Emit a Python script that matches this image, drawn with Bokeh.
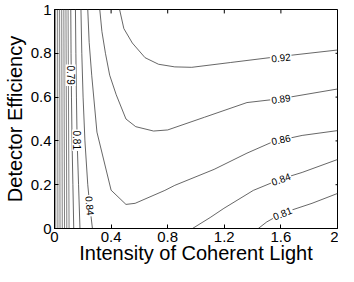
import math
from bokeh.plotting import figure
from bokeh.models import Range1d, FixedTicker, ColumnDataSource
from bokeh.embed import file_html
from bokeh.resources import INLINE
from bokeh.core.properties import value

# ---- data ----
x_ticks = [0.0, 0.4, 0.8, 1.2, 1.6, 2.0]
x_tick_labels = ["0", "0.4", "0.8", "1.2", "1.6", "2"]
y_ticks = [0.0, 0.2, 0.4, 0.6, 0.8, 1.0]
y_tick_labels = ["0", "0.2", "0.4", "0.6", "0.8", "1"]

# dense unlabelled low-level contours near x = 0 (top and bottom x)
dense_x_top = [0.008, 0.022, 0.036, 0.051, 0.066, 0.081, 0.096]
dense_x_bot = [0.009, 0.024, 0.039, 0.055, 0.071, 0.087, 0.103]

c079_x = [0.115, 0.117, 0.120, 0.124, 0.130, 0.136]
c079_y = [1.0, 0.8, 0.6, 0.4, 0.2, 0.0]

c081_x = [0.148, 0.151, 0.155, 0.160, 0.170, 0.180]
c081_y = [1.0, 0.8, 0.6, 0.4, 0.2, 0.0]

c084_x = [0.187, 0.193, 0.202, 0.215, 0.235, 0.250, 0.268]
c084_y = [1.0, 0.8, 0.6, 0.4, 0.2, 0.1, 0.0]

c086_x = [0.235, 0.245, 0.263, 0.300, 0.400, 0.505, 0.570, 0.780, 0.850,
          1.128, 1.360, 1.543, 1.750, 2.000]
c086_y = [1.0, 0.85, 0.70, 0.44, 0.175, 0.110, 0.115, 0.174, 0.197,
          0.270, 0.344, 0.396, 0.425, 0.447]

c089_x = [0.320, 0.335, 0.360, 0.390, 0.436, 0.505, 0.574, 0.700, 0.800,
          1.060, 1.360, 1.600, 2.000]
c089_y = [1.0, 0.9, 0.8, 0.7, 0.611, 0.500, 0.465, 0.445, 0.450,
          0.508, 0.575, 0.593, 0.637]

c092_x = [0.460, 0.490, 0.550, 0.640, 0.735, 0.850, 0.970, 1.245, 1.520, 2.000]
c092_y = [1.0, 0.913, 0.847, 0.780, 0.750, 0.738, 0.736, 0.758, 0.780, 0.815]

c084b_x = [0.975, 1.100, 1.197, 1.405, 1.600, 1.750, 2.000]
c084b_y = [0.0, 0.050, 0.092, 0.174, 0.226, 0.256, 0.315]

c081b_x = [1.440, 1.500, 1.610, 1.820, 2.000]
c081b_y = [0.0, 0.030, 0.070, 0.115, 0.160]

label_text = ["0.79", "0.81", "0.84", "0.84", "0.81", "0.86", "0.89", "0.92"]
label_x = [0.115, 0.160, 0.251, 1.600, 1.610, 1.600, 1.600, 1.600]
label_y = [0.700, 0.403, 0.104, 0.226, 0.070, 0.407, 0.593, 0.781]
label_angle_deg = [-90, -90, -85, 20, 22, 12, 8.6, 6.5]

# ---- figure ----
FONT = "Liberation Sans"
p = figure(width=338, height=266, x_range=Range1d(0, 2), y_range=Range1d(0, 1),
           output_backend="svg", toolbar_location=None,
           x_axis_label="Intensity of Coherent Light",
           y_axis_label="Detector Efficiency",
           min_border_left=49, min_border_right=1, min_border_top=9,
           min_border_bottom=0)
p.grid.visible = False
p.outline_line_color = "black"
p.outline_line_width = 1
p.background_fill_color = "white"
p.border_fill_color = "white"

for ax, ticks, labels in ((p.xaxis[0], x_ticks, x_tick_labels),
                          (p.yaxis[0], y_ticks, y_tick_labels)):
    ax.ticker = FixedTicker(ticks=ticks)
    ax.major_label_overrides = {t: l for t, l in zip(ticks, labels)}
    ax.major_tick_in = 4
    ax.major_tick_out = 0
    ax.minor_tick_line_color = None
    ax.axis_line_color = "black"
    ax.major_tick_line_color = "black"
    ax.major_label_text_font = FONT
    ax.major_label_text_font_size = "15px"
    ax.major_label_text_color = "black"
    ax.axis_label_text_font = FONT
    ax.axis_label_text_font_size = "20px"
    ax.axis_label_text_font_style = "normal"
    ax.axis_label_text_color = "black"

p.xaxis[0].major_label_standoff = 3
p.xaxis[0].axis_label_standoff = -3
p.yaxis[0].major_label_standoff = 3
p.yaxis[0].axis_label_standoff = 2

# inward ticks on the top and right frame edges, placed at the tick values
TICK_DX = 0.014   # ~4 px in x data units
TICK_DY = 0.018   # ~4 px in y data units
p.segment(x0=x_ticks, y0=[1.0] * len(x_ticks), x1=x_ticks,
          y1=[1.0 - TICK_DY] * len(x_ticks), line_color="black", line_width=1)
p.segment(x0=[2.0] * len(y_ticks), y0=y_ticks, x1=[2.0 - TICK_DX] * len(y_ticks),
          y1=y_ticks, line_color="black", line_width=1)

LINE = "#404040"
LW = 0.8

dense_xs = [[a, b] for a, b in zip(dense_x_top, dense_x_bot)]
dense_ys = [[1.0, 0.0] for _ in dense_x_top]
p.multi_line(xs=dense_xs, ys=dense_ys, line_color="#606060", line_width=LW)

for xs, ys in ((c079_x, c079_y), (c081_x, c081_y), (c084_x, c084_y),
               (c086_x, c086_y), (c089_x, c089_y), (c092_x, c092_y),
               (c084b_x, c084b_y), (c081b_x, c081b_y)):
    p.line(xs, ys, line_color=LINE, line_width=LW)

src = ColumnDataSource(dict(x=label_x, y=label_y, text=label_text,
                            angle=[math.radians(a) for a in label_angle_deg]))
p.text(x="x", y="y", text="text", angle="angle", source=src,
       text_font=value(FONT), text_font_size="10px", text_color="black",
       text_align="center", text_baseline="middle",
       background_fill_color="white", padding=1)

open("out.html", "w").write(file_html(p, INLINE))
